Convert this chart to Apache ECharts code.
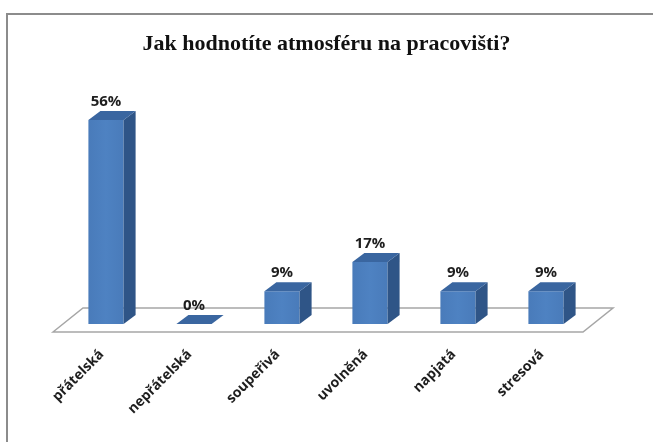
<!DOCTYPE html>
<html>
<head>
<meta charset="utf-8">
<script src="https://cdn.jsdelivr.net/npm/echarts@6/dist/echarts.min.js"></script>
<style>
html,body{margin:0;padding:0;background:#fff;}
#chart{width:653px;height:442px;}
</style>
</head>
<body>
<div id="chart"></div>
<script>
const titleText = 'Jak hodnotíte atmosféru na pracovišti?';
const categories = ['přátelská', 'nepřátelská', 'soupeřivá', 'uvolněná', 'napjatá', 'stresová'];
const values = [56, 0, 9, 17, 9, 9];

const chart = echarts.init(document.getElementById('chart'), null, {renderer: 'canvas'});

const DX = 12, DY = 9;
const frontColor = new echarts.graphic.LinearGradient(0, 0, 1, 0, [
  {offset: 0, color: '#497bba'},
  {offset: 0.5, color: '#4e82c2'},
  {offset: 1, color: '#497bba'}
]);

function renderBar(params, api) {
  const i = api.value(0), v = api.value(1);
  const top = api.coord([i, v]);
  const base = api.coord([i, 0]);
  const bw = api.size([1, 0])[0] * 0.4;
  const x0 = base[0] - bw / 2, x1 = base[0] + bw / 2;
  const yb = base[1], yt = top[1];
  const children = [];
  if (yb - yt > 0.5) {
    children.push({
      type: 'rect',
      shape: {x: x0, y: yt, width: bw, height: yb - yt},
      style: {fill: frontColor}
    });
    children.push({
      type: 'polygon',
      shape: {points: [[x1, yt], [x1 + DX, yt - DY], [x1 + DX, yb - DY], [x1, yb]]},
      style: {fill: '#2f5587'}
    });
  }
  children.push({
    type: 'polygon',
    shape: {points: [[x0, yt], [x0 + DX, yt - DY], [x1 + DX, yt - DY], [x1, yt]]},
    style: {fill: '#3a66a0'}
  });
  children.push({
    type: 'text',
    style: {
      x: base[0], y: yt - DY - 2,
      text: v + '%',
      align: 'center', verticalAlign: 'bottom',
      fill: '#1e1e1e',
      font: 'bold 15px "Open Sans", sans-serif'
    }
  });
  return {type: 'group', children: children};
}

function renderFloor(params, api) {
  const band = api.size([1, 0])[0];
  const first = api.coord([0, 0]);
  const last = api.coord([categories.length - 1, 0]);
  const left = first[0] - band / 2;
  const right = last[0] + band / 2;
  const yb = first[1];
  return {
    type: 'polygon',
    shape: {points: [
      [left - 9, yb + 8], [left + 21, yb - 16], [right + 23, yb - 16], [right - 7, yb + 8]
    ]},
    style: {fill: '#ffffff', stroke: '#a6a6a6', lineWidth: 1.5}
  };
}

chart.setOption({
  animation: false,
  backgroundColor: '#ffffff',
  title: {
    text: titleText,
    left: 'center',
    top: 28,
    padding: [5, 0, 5, 12],
    textStyle: {
      fontFamily: '"Liberation Serif", "DejaVu Serif", serif',
      fontWeight: 'bold',
      fontSize: 22,
      color: '#111'
    }
  },
  graphic: [{
    type: 'rect',
    shape: {x: 7, y: 14, width: 680, height: 460},
    style: {fill: 'none', stroke: '#8c8c8c', lineWidth: 2},
    silent: true,
    z: 100
  }],
  grid: {left: 62, right: 63, top: 105.4, bottom: 118},
  xAxis: {
    type: 'category',
    data: categories,
    boundaryGap: true,
    axisLine: {show: false},
    axisTick: {show: false},
    axisLabel: {
      rotate: 45,
      margin: 24,
      interval: 0,
      padding: [0, 6, 0, 0],
      fontFamily: '"Open Sans", sans-serif',
      fontWeight: 'bold',
      fontSize: 14,
      color: '#1e1e1e'
    }
  },
  yAxis: {
    type: 'value',
    min: 0, max: 60,
    show: false,
    splitLine: {show: false}
  },
  series: [
    {
      type: 'custom',
      name: 'floor',
      data: [[0, 0]],
      renderItem: renderFloor,
      z: 1,
      silent: true
    },
    {
      type: 'custom',
      name: 'bars',
      data: values.map((v, i) => [i, v]),
      encode: {x: 0, y: 1},
      renderItem: renderBar,
      z: 2
    }
  ]
});
</script>
</body>
</html>
